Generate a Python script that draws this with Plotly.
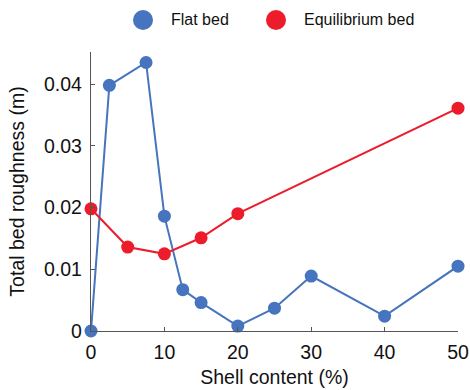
import plotly.graph_objects as go

flat_x = [0, 2.5, 7.5, 10, 12.5, 15, 20, 25, 30, 40, 50]
flat_y = [0.0, 0.0398, 0.0435, 0.0186, 0.0067, 0.0046, 0.0008, 0.0037, 0.0089, 0.0024, 0.0105]
eq_x = [0, 5, 10, 15, 20, 50]
eq_y = [0.0198, 0.0136, 0.0125, 0.0151, 0.019, 0.0361]

x_ticks = [0, 10, 20, 30, 40, 50]
y_ticks = [0, 0.01, 0.02, 0.03, 0.04]
y_tick_text = ["0", "0.01", "0.02", "0.03", "0.04"]

series_names = ["Flat bed", "Equilibrium bed"]
blue = "#4674BE"
red = "#EC1C2A"
colors = [blue, red]

fig = go.Figure()
for name, xs, ys, c in zip(series_names, [flat_x, eq_x], [flat_y, eq_y], colors):
    fig.add_trace(go.Scatter(x=xs, y=ys, mode="lines+markers", name=name,
                             line=dict(color=c, width=2), marker=dict(color=c, size=13),
                             cliponaxis=False, showlegend=False))

# custom legend (large circular symbols) in the top margin
legend_sym_x = [0.1417, 0.5041]
legend_txt_x = [0.2125, 0.575]
legend_y = 1.1147
for name, c, sx, tx in zip(series_names, colors, legend_sym_x, legend_txt_x):
    fig.add_shape(type="circle", xref="paper", yref="paper", xsizemode="pixel", ysizemode="pixel",
                  xanchor=sx, yanchor=legend_y, x0=-10, x1=10, y0=-10, y1=10,
                  fillcolor=c, line=dict(width=0))
    fig.add_annotation(xref="paper", yref="paper", x=tx, y=legend_y, xanchor="left", yanchor="middle",
                       text=name, showarrow=False, font=dict(size=16, color="#111"))

axis_common = dict(showgrid=False, zeroline=False, showline=True, linecolor="#555",
                   linewidth=1.3, ticks="inside", ticklen=4, tickcolor="#555", tickwidth=1.3,
                   tickfont=dict(size=19.5, color="#111"), automargin=False)
fig.update_layout(
    width=470, height=390,
    margin=dict(l=91, r=12, t=52, b=59),
    paper_bgcolor="white", plot_bgcolor="white",
    font=dict(family="Liberation Sans, Arial, sans-serif", color="#111"),
    showlegend=False,
    hovermode=False,
    xaxis=dict(range=[0, 50], tickvals=x_ticks, ticklabelstandoff=3,
               title=dict(text="Shell content (%)", font=dict(size=19.5), standoff=8),
               **axis_common),
    yaxis=dict(range=[0, 0.0452], tickvals=y_ticks, ticktext=y_tick_text, ticklabelstandoff=4,
               title=dict(text="Total bed roughness (m)", font=dict(size=19.5), standoff=14),
               **axis_common),
)
# remove the page's default body margin so the figure fills the window exactly
fig.write_html("out.html", config={"displayModeBar": False},
               post_script="document.body.style.margin='0';document.body.style.overflow='hidden';")
